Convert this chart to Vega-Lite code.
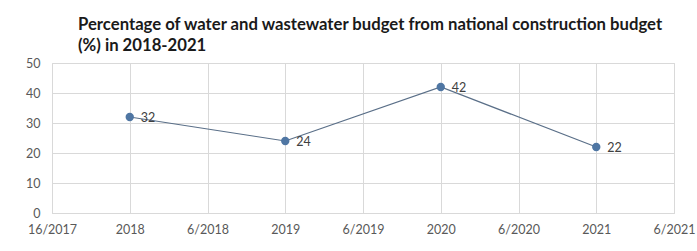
{
  "$schema": "https://vega.github.io/schema/vega-lite/v6.json",
  "autosize": "none",
  "width": 622,
  "height": 150,
  "padding": {"left": 52, "top": 63, "right": 23, "bottom": 38},
  "background": "white",
  "title": {
    "text": ["Percentage of water and wastewater budget from national construction budget", "(%) in 2018-2021"],
    "anchor": "start",
    "frame": "group",
    "dx": 26,
    "offset": 2,
    "font": "Lato",
    "fontSize": 16.7,
    "fontWeight": "bold",
    "color": "#1a1a1a",
    "lineHeight": 21
  },
  "data": {
    "values": [
      {"period": "2018", "value": 32},
      {"period": "2019", "value": 24},
      {"period": "2020", "value": 42},
      {"period": "2021", "value": 22}
    ]
  },
  "encoding": {
    "x": {
      "field": "period",
      "type": "ordinal",
      "scale": {"type": "point", "padding": 0, "domain": ["16/2017", "2018", "6/2018", "2019", "6/2019", "2020", "6/2020", "2021", "6/2021"]},
      "axis": {"title": null, "labelAngle": 0, "ticks": false, "grid": true, "gridColor": "#d9d9d9", "domainColor": "#d9d9d9", "labelColor": "#595959", "labelFont": "Lato", "labelFontSize": 12.5, "labelPadding": 10}
    },
    "y": {
      "field": "value",
      "type": "quantitative",
      "scale": {"domain": [0, 50]},
      "axis": {"title": null, "values": [0, 10, 20, 30, 40, 50], "ticks": false, "domain": false, "grid": true, "gridColor": "#d9d9d9", "labelColor": "#595959", "labelFont": "Lato", "labelFontSize": 12.5, "labelPadding": 12}
    }
  },
  "layer": [
    {"mark": {"type": "line", "color": "#5a6f88", "strokeWidth": 1.2}},
    {"mark": {"type": "point", "filled": true, "opacity": 1, "size": 70, "color": "#4f76a3"}},
    {"mark": {"type": "text", "align": "left", "dx": 11, "dy": 1, "font": "Lato", "fontSize": 12.5, "color": "#404040"}, "encoding": {"text": {"field": "value", "type": "quantitative"}}}
  ],
  "config": {"view": {"stroke": "#d9d9d9"}}
}
